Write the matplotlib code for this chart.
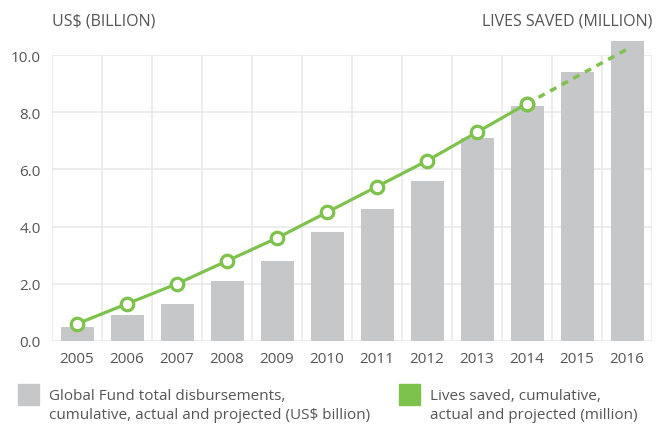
import numpy as np
import matplotlib
matplotlib.use("Agg")
import matplotlib.pyplot as plt
from matplotlib.patches import Rectangle

years = ["2005", "2006", "2007", "2008", "2009", "2010",
         "2011", "2012", "2013", "2014", "2015", "2016"]
disbursements = [0.5, 0.9, 1.3, 2.1, 2.8, 3.8, 4.6, 5.6, 7.1, 8.2, 9.4, 10.5]
lives_actual = [0.6, 1.3, 2.0, 2.8, 3.6, 4.5, 5.4, 6.3, 7.3, 8.3]
lives_projected = [8.3, 10.2]
yticks = [0, 2, 4, 6, 8, 10]

grey = "#c6c7c9"
green = "#7dc24b"
text_col = "#555555"
grid_col = "#e9e9e9"

plt.rcParams['font.family'] = ['Open Sans', 'DejaVu Sans']

fig = plt.figure(figsize=(6.61, 4.27), dpi=100)
ax = fig.add_axes([52/661, 85/427, 600/661, 286/427])

x = np.arange(len(years))
ax.bar(x, disbursements, width=0.66, color=grey, zorder=2, clip_on=False)

ax.plot(x[:len(lives_actual)], lives_actual, color=green, lw=2.3, zorder=3,
        marker='o', ms=9, mfc='white', mec=green, mew=2.3)
ax.plot([x[len(lives_actual) - 1], x[-1]], lives_projected, color=green,
        lw=2.5, ls=(0, (2, 1.8)), zorder=3, clip_on=False)
# redraw last actual marker on top of the dashed part
ax.plot(x[len(lives_actual) - 1], lives_actual[-1], 'o', ms=9, mfc='white',
        mec=green, mew=2.3, zorder=4)

ax.set_xlim(-0.5, len(years) - 0.5)
ax.set_ylim(0, 10)
ax.set_yticks(yticks)
ax.set_yticklabels([f"{v:.1f}" for v in yticks])
ax.set_xticks(x)
ax.set_xticklabels(years)
ax.set_xticks(np.arange(-0.5, len(years)), minor=True)

ax.grid(True, axis='y', color=grid_col, lw=1.2, zorder=0)
ax.grid(True, axis='x', which='minor', color=grid_col, lw=1.2, zorder=0)
ax.grid(False, axis='x', which='major')
for s in ax.spines.values():
    s.set_visible(False)
ax.tick_params(axis='both', which='both', length=0, colors=text_col,
               labelsize=11)
ax.tick_params(axis='x', pad=7)
ax.tick_params(axis='y', pad=8)

fig.text(52/661, 1 - 21/427, "US$ (BILLION)", color=text_col, fontsize=11.5,
         ha='left', va='center')
fig.text(652/661, 1 - 21/427, "LIVES SAVED (MILLION)", color=text_col,
         fontsize=11.5, ha='right', va='center')

# legend
fig.patches.append(Rectangle((18/661, 1 - 406/427), 21/661, 21/427,
                             transform=fig.transFigure, color=grey))
fig.text(49/661, 1 - 406/427,
         "Global Fund total disbursements,\ncumulative, actual and projected (US$ billion)",
         color=text_col, fontsize=11, ha='left', va='center', linespacing=1.35)
fig.patches.append(Rectangle((399/661, 1 - 406/427), 21/661, 21/427,
                             transform=fig.transFigure, color=green))
fig.text(430/661, 1 - 406/427,
         "Lives saved, cumulative,\nactual and projected (million)",
         color=text_col, fontsize=11, ha='left', va='center', linespacing=1.35)

fig.savefig("out.png", dpi=100, facecolor='white')
